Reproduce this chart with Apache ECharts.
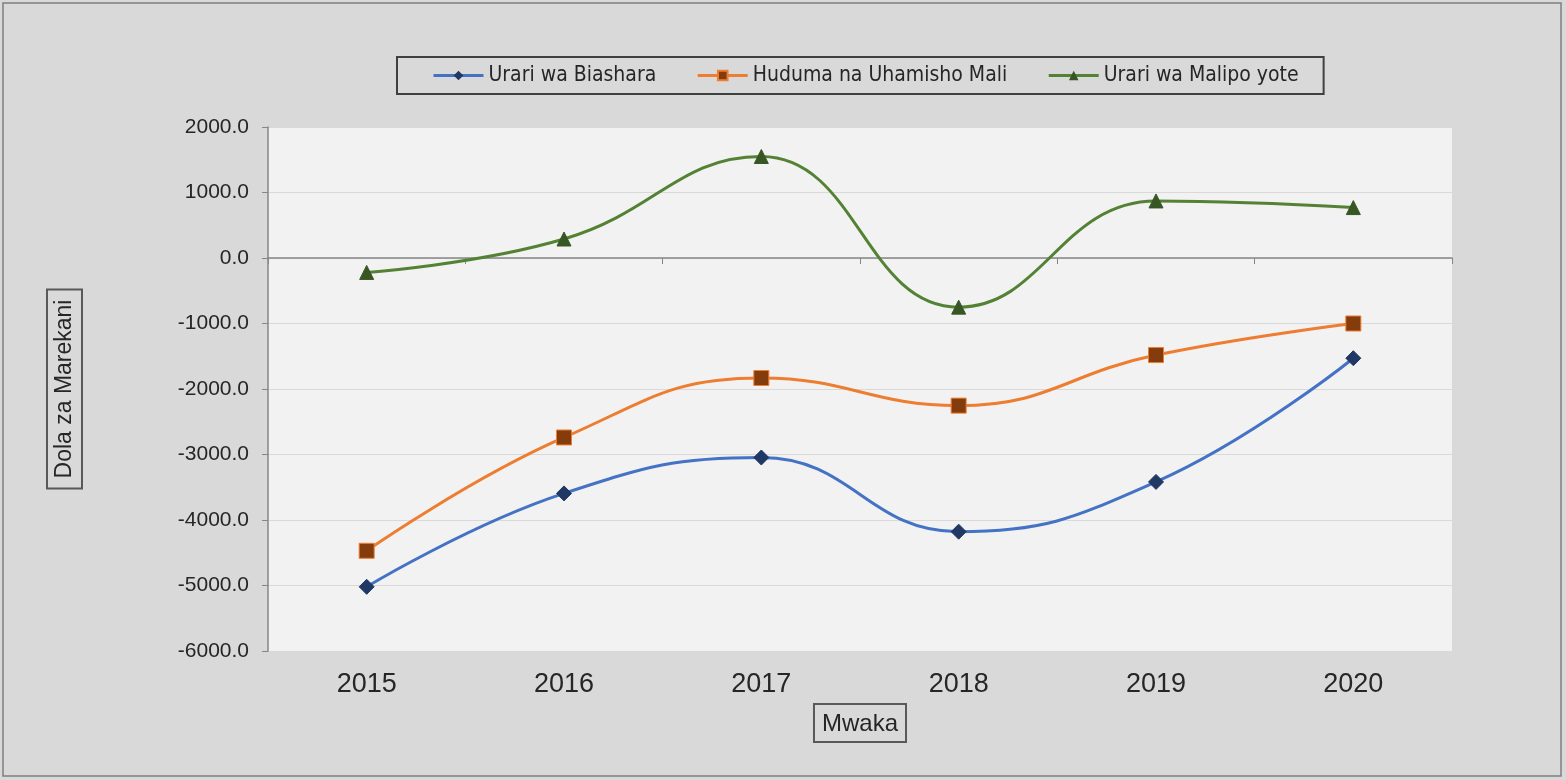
<!DOCTYPE html>
<html>
<head>
<meta charset="utf-8">
<title>Urari wa Malipo</title>
<script src="https://cdn.jsdelivr.net/npm/echarts@6/dist/echarts.min.js"></script>
<style>
  html, body { margin: 0; padding: 0; background: #d9d9d9; }
  #chart { width: 1566px; height: 780px; }
</style>
</head>
<body>
<div id="chart"></div>
<script>
// years on the category axis
const years = ["2015", "2016", "2017", "2018", "2019", "2020"];

// values (USD millions)
const urariBiashara = [-5020, -3594, -3046, -4178, -3418, -1530];
const hudumaUhamisho = [-4470, -2740, -1832, -2254, -1482, -1000];
const urariMalipo = [-220, 290, 1550, -750, 871, 770];

const seriesNames = ["Urari wa Biashara", "Huduma na Uhamisho Mali", "Urari wa Malipo yote"];

const axisGray = "#868686";
const textColor = "#262626";

const chart = echarts.init(document.getElementById("chart"));

const option = {
  backgroundColor: "#d9d9d9",
  animation: false,
  graphic: [
    {
      type: "rect",
      shape: { x: 3, y: 3, width: 1558, height: 773 },
      style: { fill: "none", stroke: "#7f7f7f", lineWidth: 1.5 },
      silent: true
    }
  ],
  legend: {
    left: 397,
    top: 57,
    padding: [8, 25, 8, 35],
    itemGap: 40,
    itemWidth: 50,
    itemHeight: 12,
    borderColor: "#404040",
    borderWidth: 2,
    lineStyle: { width: 3 },
    textStyle: {
      fontFamily: "Liberation Sans Narrow, DejaVu Sans Condensed, sans-serif",
      fontSize: 21,
      color: textColor
    },
    data: seriesNames
  },
  grid: {
    left: 268,
    right: 114,
    top: 127,
    bottom: 129,
    show: true,
    backgroundColor: "#f2f2f2",
    borderWidth: 0
  },
  xAxis: [
    {
      type: "category",
      data: years,
      position: "bottom",
      axisLine: { show: false, onZero: false },
      axisTick: { show: false },
      axisLabel: {
        margin: 20,
        fontFamily: "Liberation Sans, Arial, sans-serif",
        fontSize: 27,
        color: textColor
      },
      name: "Mwaka",
      nameLocation: "middle",
      nameGap: 51,
      nameTextStyle: {
        fontFamily: "Liberation Sans, Arial, sans-serif",
        fontSize: 24,
        color: textColor,
        borderColor: "#595959",
        borderWidth: 2,
        padding: [8, 8, 6, 8]
      }
    },
    {
      // zero line with the tick marks between categories
      type: "category",
      data: years,
      position: "bottom",
      axisLine: { show: true, onZero: true, lineStyle: { color: axisGray, width: 1.5 } },
      axisTick: { show: true, length: 6, lineStyle: { color: axisGray } },
      axisLabel: { show: false },
      splitLine: { show: false }
    }
  ],
  yAxis: {
    type: "value",
    min: -6000,
    max: 2000,
    interval: 1000,
    axisLine: { show: true, lineStyle: { color: axisGray, width: 1.5 } },
    axisTick: { show: true, length: 6, lineStyle: { color: axisGray } },
    splitLine: { lineStyle: { color: "#d9d9d9", width: 1 } },
    axisLabel: {
      margin: 19,
      fontFamily: "Liberation Sans, Arial, sans-serif",
      fontSize: 21,
      color: textColor,
      formatter: v => v.toFixed(1)
    },
    name: "Dola za Marekani",
    nameLocation: "middle",
    nameRotate: 90,
    nameGap: 186,
    nameTextStyle: {
      fontFamily: "Liberation Sans, Arial, sans-serif",
      fontSize: 23,
      color: textColor,
      borderColor: "#595959",
      borderWidth: 2,
      padding: [6, 10, 6, 10]
    }
  },
  series: [
    {
      name: seriesNames[0],
      type: "line",
      xAxisIndex: 0,
      data: urariBiashara,
      smooth: 0.45,
      symbol: "diamond",
      symbolSize: 15,
      lineStyle: { color: "#4472c4", width: 3 },
      itemStyle: { color: "#1f3864", borderColor: "#1f3864" }
    },
    {
      name: seriesNames[1],
      type: "line",
      xAxisIndex: 0,
      data: hudumaUhamisho,
      smooth: 0.45,
      symbol: "rect",
      symbolSize: 15,
      lineStyle: { color: "#ed7d31", width: 3 },
      itemStyle: { color: "#843c0c", borderColor: "#ed7d31", borderWidth: 1 }
    },
    {
      name: seriesNames[2],
      type: "line",
      xAxisIndex: 0,
      data: urariMalipo,
      smooth: 0.45,
      symbol: "triangle",
      symbolSize: 14,
      lineStyle: { color: "#548235", width: 3 },
      itemStyle: { color: "#375623", borderColor: "#375623" }
    }
  ]
};

chart.setOption(option);
</script>
</body>
</html>
